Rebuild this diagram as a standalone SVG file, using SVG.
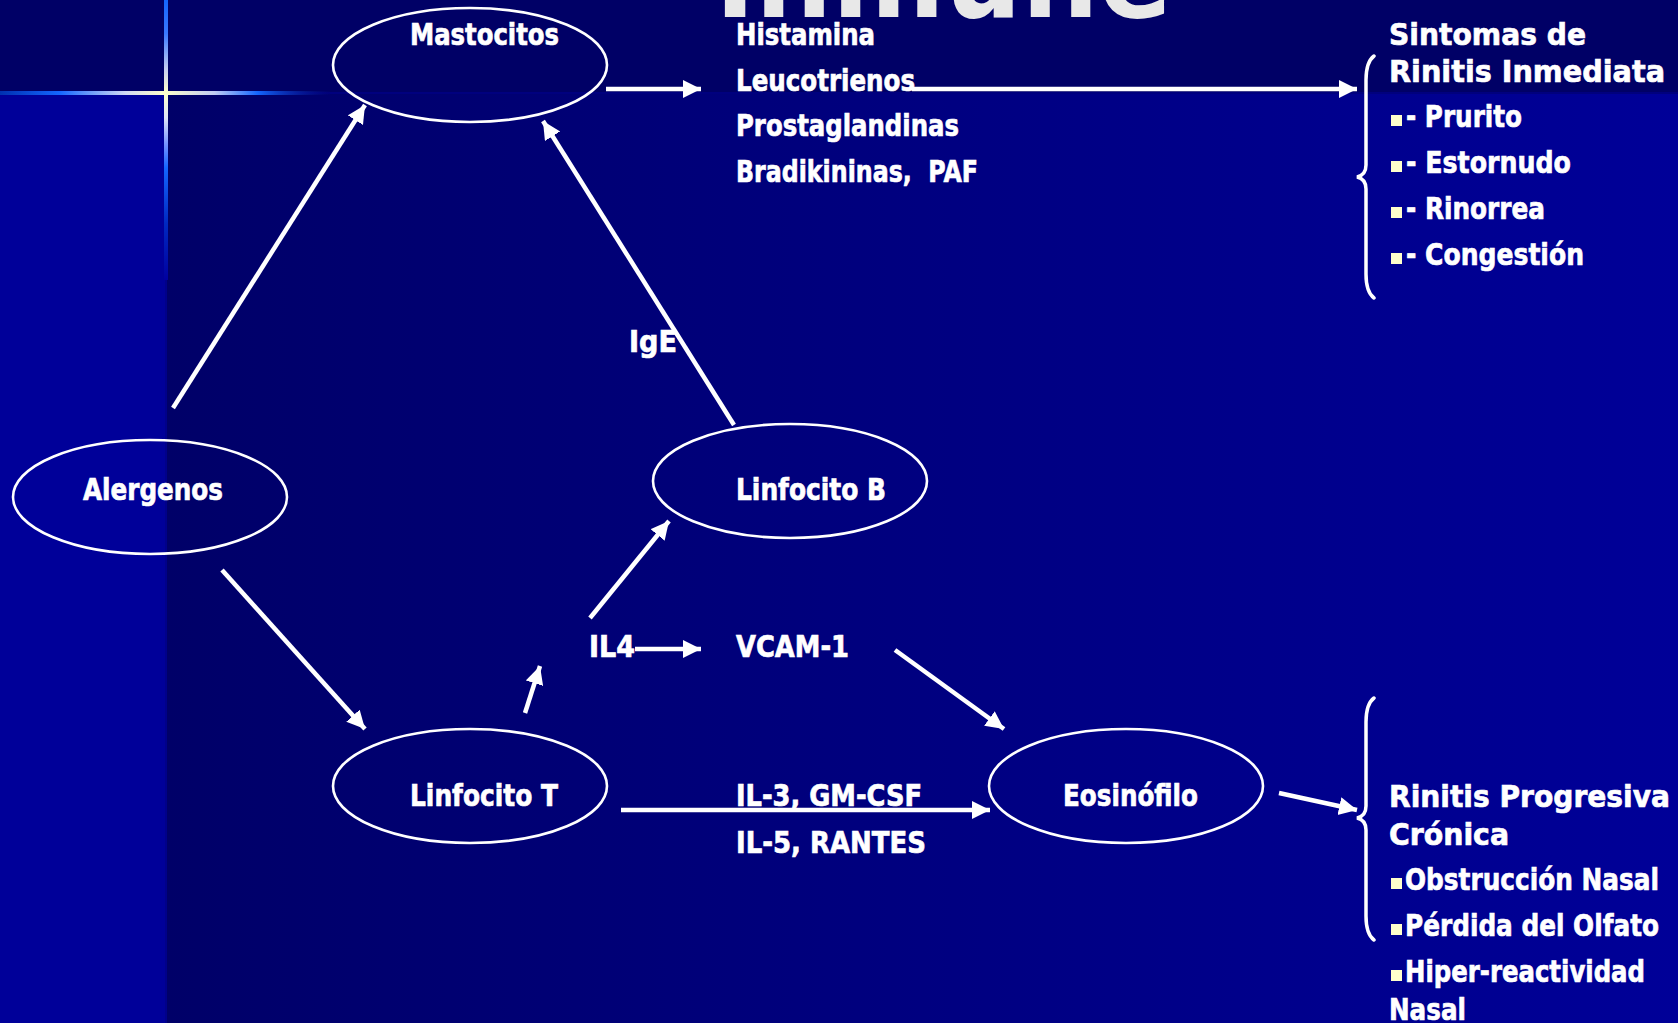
<svg xmlns="http://www.w3.org/2000/svg" width="1678" height="1023" viewBox="0 0 1678 1023">
<defs>
<linearGradient id="bgMain" x1="166" y1="0" x2="1678" y2="0" gradientUnits="userSpaceOnUse">
<stop offset="0" stop-color="#000068"/>
<stop offset="1" stop-color="#000098"/>
</linearGradient>
<linearGradient id="vLine" x1="0" y1="0" x2="0" y2="280" gradientUnits="userSpaceOnUse">
<stop offset="0" stop-color="#1466ff"/>
<stop offset="0.12" stop-color="#3a78ff"/>
<stop offset="0.25" stop-color="#c8d0f0"/>
<stop offset="0.33" stop-color="#ffffcc"/>
<stop offset="0.42" stop-color="#e0e4f8"/>
<stop offset="0.52" stop-color="#7090ff"/>
<stop offset="0.6" stop-color="#1466ff"/>
<stop offset="0.8" stop-color="#0028c0"/>
<stop offset="1" stop-color="#0000a0"/>
</linearGradient>
<linearGradient id="hLine" x1="0" y1="0" x2="330" y2="0" gradientUnits="userSpaceOnUse">
<stop offset="0" stop-color="#0030b0"/>
<stop offset="0.18" stop-color="#1466ff"/>
<stop offset="0.38" stop-color="#d0d8f4"/>
<stop offset="0.5" stop-color="#ffffcc"/>
<stop offset="0.65" stop-color="#c0ccf4"/>
<stop offset="0.78" stop-color="#1466ff"/>
<stop offset="1" stop-color="#000070" stop-opacity="0.3"/>
</linearGradient>
<marker id="ah" markerUnits="userSpaceOnUse" markerWidth="20" markerHeight="20" refX="18" refY="9" orient="auto">
<path d="M0,0 L18,9 L0,18 z" fill="#ffffff"/>
</marker>
</defs>
<style>
.node ellipse { fill: none; stroke: #ffffff; stroke-width: 2.6; }
.t { font-family: "DejaVu Sans", Verdana, sans-serif; font-weight: bold; fill: #ffffff; font-size: 30px; stroke: #ffffff; stroke-width: 0.7px; }
.tb { font-family: "DejaVu Sans", Verdana, sans-serif; font-weight: bold; fill: #ffffff; font-size: 31px; stroke: #ffffff; stroke-width: 0.7px; }
.conn line { stroke: #ffffff; stroke-width: 4.5; marker-end: url(#ah); }
.brace { fill: none; stroke: #ffffff; stroke-width: 3.5; stroke-linecap: round; }
.bullet { fill: #ffffcc; }
</style>

<!-- background -->
<rect x="0" y="0" width="1678" height="1023" fill="url(#bgMain)"/>
<rect x="0" y="93" width="166" height="930" fill="#000099"/>
<rect x="0" y="0" width="1678" height="93" fill="#000066"/>
<rect x="166" y="92" width="1512" height="2" fill="#00007e"/>
<rect x="164" y="0" width="4" height="280" fill="url(#vLine)"/>
<rect x="165" y="280" width="2" height="743" fill="#00008a"/>
<rect x="0" y="91" width="330" height="4" fill="url(#hLine)"/>

<!-- cut-off title -->
<text x="715" y="17" font-family="DejaVu Sans, Verdana, sans-serif" font-weight="bold" font-size="118" fill="#e8e8e8" textLength="457" lengthAdjust="spacingAndGlyphs">Inmune</text>

<!-- connectors -->
<g id="connectors" class="conn">
<line x1="173" y1="408" x2="365" y2="105"/>
<line x1="734" y1="425" x2="543" y2="121"/>
<line x1="222" y1="570" x2="365" y2="729"/>
<line x1="525" y1="713" x2="540" y2="666"/>
<line x1="590" y1="618" x2="669" y2="521"/>
<line x1="635" y1="649" x2="701" y2="649"/>
<line x1="895" y1="650" x2="1004" y2="729"/>
<line x1="621" y1="810" x2="990" y2="810"/>
<line x1="1279" y1="793" x2="1357" y2="810"/>
<line x1="606" y1="89" x2="701" y2="89"/>
<line x1="912" y1="89" x2="1357" y2="89"/>
</g>

<!-- nodes -->
<g id="mastocitos" class="node">
<ellipse cx="470" cy="65" rx="137" ry="57"/>
<text class="t" x="410" y="45" textLength="149" lengthAdjust="spacingAndGlyphs">Mastocitos</text>
</g>
<g id="alergenos" class="node">
<ellipse cx="150" cy="497" rx="137" ry="57"/>
<text class="t" x="83" y="500" textLength="140" lengthAdjust="spacingAndGlyphs">Alergenos</text>
</g>
<g id="linfocito-b" class="node">
<ellipse cx="790" cy="481" rx="137" ry="57"/>
<text class="t" x="736" y="500" textLength="150" lengthAdjust="spacingAndGlyphs">Linfocito B</text>
</g>
<g id="linfocito-t" class="node">
<ellipse cx="470" cy="786" rx="137" ry="57"/>
<text class="t" x="410" y="806" textLength="148" lengthAdjust="spacingAndGlyphs">Linfocito T</text>
</g>
<g id="eosinofilo" class="node">
<ellipse cx="1126" cy="786" rx="137" ry="57"/>
<text class="t" x="1063" y="806" textLength="135" lengthAdjust="spacingAndGlyphs">Eosinófilo</text>
</g>

<!-- mediators -->
<g id="mediadores">
<text class="t" x="736" y="45" textLength="139" lengthAdjust="spacingAndGlyphs">Histamina</text>
<text class="t" x="736" y="91" textLength="179" lengthAdjust="spacingAndGlyphs">Leucotrienos</text>
<text class="t" x="736" y="136" textLength="223" lengthAdjust="spacingAndGlyphs">Prostaglandinas</text>
<text class="t" x="736" y="182" textLength="242" lengthAdjust="spacingAndGlyphs">Bradikininas,&#160; PAF</text>
</g>
<g id="ige"><text class="t" x="629" y="352" textLength="48" lengthAdjust="spacingAndGlyphs">IgE</text></g>
<g id="il4"><text class="t" x="589" y="657" textLength="46" lengthAdjust="spacingAndGlyphs">IL4</text></g>
<g id="vcam"><text class="t" x="736" y="657" textLength="113" lengthAdjust="spacingAndGlyphs">VCAM-1</text></g>
<g id="citoquinas">
<text class="t" x="736" y="806" textLength="186" lengthAdjust="spacingAndGlyphs">IL-3, GM-CSF</text>
<text class="t" x="736" y="853" textLength="190" lengthAdjust="spacingAndGlyphs">IL-5, RANTES</text>
</g>

<!-- immediate symptoms -->
<g id="sintomas">
<path class="brace" d="M1374,56 Q1366,62 1366,80 L1366,165 Q1366,175 1357,177 Q1366,179 1366,189 L1366,274 Q1366,292 1374,298"/>
<text class="tb" x="1389" y="45" textLength="197" lengthAdjust="spacingAndGlyphs">Sintomas de</text>
<text class="tb" x="1389" y="82" textLength="276" lengthAdjust="spacingAndGlyphs">Rinitis Inmediata</text>
<rect class="bullet" x="1391" y="115" width="11" height="11"/>
<text class="tb" x="1406" y="127" textLength="116" lengthAdjust="spacingAndGlyphs">- Prurito</text>
<rect class="bullet" x="1391" y="161" width="11" height="11"/>
<text class="tb" x="1406" y="173" textLength="165" lengthAdjust="spacingAndGlyphs">- Estornudo</text>
<rect class="bullet" x="1391" y="207" width="11" height="11"/>
<text class="tb" x="1406" y="219" textLength="139" lengthAdjust="spacingAndGlyphs">- Rinorrea</text>
<rect class="bullet" x="1391" y="253" width="11" height="11"/>
<text class="tb" x="1406" y="265" textLength="178" lengthAdjust="spacingAndGlyphs">- Congestión</text>
</g>

<!-- chronic symptoms -->
<g id="cronica">
<path class="brace" d="M1374,698 Q1366,704 1366,722 L1366,806 Q1366,816 1357,818 Q1366,820 1366,830 L1366,916 Q1366,934 1374,940"/>
<text class="tb" x="1389" y="807" textLength="281" lengthAdjust="spacingAndGlyphs">Rinitis Progresiva</text>
<text class="tb" x="1389" y="845" textLength="120" lengthAdjust="spacingAndGlyphs">Crónica</text>
<rect class="bullet" x="1391" y="878" width="11" height="11"/>
<text class="tb" x="1405" y="890" textLength="254" lengthAdjust="spacingAndGlyphs">Obstrucción Nasal</text>
<rect class="bullet" x="1391" y="924" width="11" height="11"/>
<text class="tb" x="1405" y="936" textLength="254" lengthAdjust="spacingAndGlyphs">Pérdida del Olfato</text>
<rect class="bullet" x="1391" y="970" width="11" height="11"/>
<text class="tb" x="1405" y="982" textLength="240" lengthAdjust="spacingAndGlyphs">Hiper-reactividad</text>
<text class="tb" x="1389" y="1020" textLength="77" lengthAdjust="spacingAndGlyphs">Nasal</text>
</g>
</svg>
